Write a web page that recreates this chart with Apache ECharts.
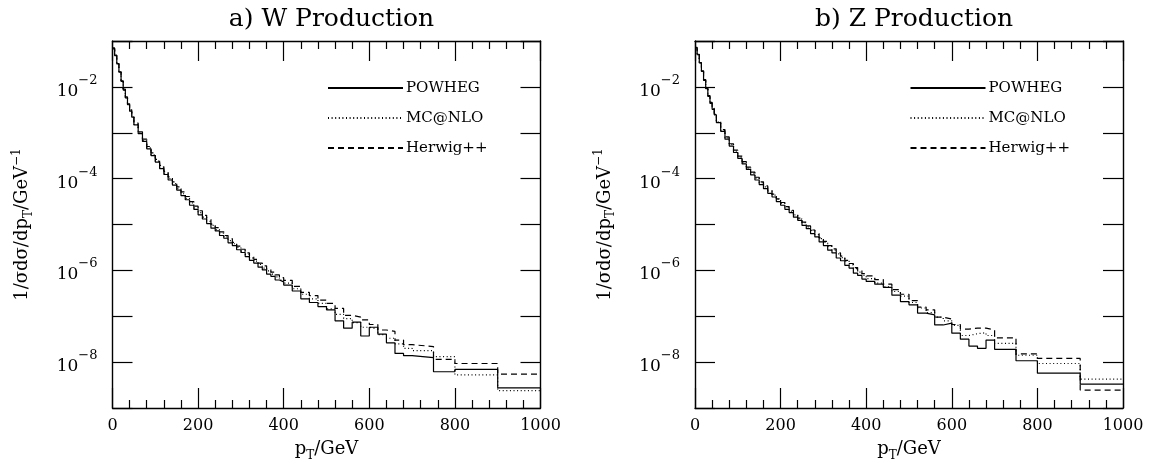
<!DOCTYPE html>
<html>
<head>
<meta charset="utf-8">
<script src="https://cdn.jsdelivr.net/npm/echarts@6/dist/echarts.min.js"></script>
<style>
html,body{margin:0;padding:0;background:#fff;}
#c{width:1151px;height:467px;}
</style>
</head>
<body>
<div id="c"></div>
<script>
// ---- data ----
// lower bin edges in GeV (last bin ends at 1000)
const binEdges = [0,5,10,15,20,25,30,35,40,45,
  50,60,70,80,90,100,110,120,130,140,150,160,170,180,190,200,210,220,230,240,
  250,260,270,280,290,300,310,320,330,340,350,360,370,380,390,
  400,420,440,460,480,500,520,540,560,580,600,620,640,660,680,
  700,750,800,900];
const binUpper = 1000;
const seriesNames = ['POWHEG', 'MC@NLO', 'Herwig++'];
const panelTitles = ['a) W Production', 'b) Z Production'];
const xTickValues = [0, 200, 400, 600, 800, 1000];
const yLabelExponents = [-2, -4, -6, -8];

// log10 of 1/sigma dsigma/dpT per bin
const wPowhegLog = [-1.17,-1.32,-1.50,-1.68,-1.88,-2.07,-2.24,-2.39,-2.53,-2.66,
  -2.83,-3.02,-3.19,-3.35,-3.50,-3.64,-3.78,-3.91,-4.03,-4.14,-4.25,-4.37,-4.46,-4.58,-4.67,
  -4.79,-4.88,-4.98,-5.08,-5.14,-5.24,-5.30,-5.40,-5.46,-5.55,-5.61,-5.70,-5.78,-5.84,-5.93,
  -5.99,-6.08,-6.13,-6.21,-6.25,
  -6.32,-6.45,-6.62,-6.70,-6.79,-6.86,-7.10,-7.26,-7.13,-7.43,-7.24,-7.39,-7.58,-7.81,-7.86,
  -7.90,-8.21,-8.16,-8.56];
const wMcnloLog = [-1.16,-1.32,-1.50,-1.68,-1.88,-2.06,-2.23,-2.38,-2.52,-2.65,
  -2.82,-3.01,-3.17,-3.33,-3.48,-3.62,-3.75,-3.88,-4.00,-4.11,-4.22,-4.33,-4.43,-4.53,-4.64,
  -4.74,-4.84,-4.93,-5.02,-5.11,-5.19,-5.27,-5.35,-5.42,-5.50,-5.58,-5.65,-5.73,-5.80,-5.87,
  -5.95,-6.01,-6.08,-6.14,-6.21,
  -6.28,-6.40,-6.52,-6.62,-6.72,-6.84,-6.96,-7.05,-7.14,-7.24,-7.28,-7.40,-7.48,-7.60,-7.70,
  -7.75,-7.88,-8.28,-8.62];
const wHerwigLog = [-1.15,-1.31,-1.49,-1.67,-1.87,-2.05,-2.22,-2.37,-2.50,-2.63,
  -2.79,-2.98,-3.14,-3.30,-3.44,-3.58,-3.71,-3.84,-3.96,-4.07,-4.18,-4.29,-4.39,-4.50,-4.60,
  -4.70,-4.80,-4.89,-4.99,-5.07,-5.16,-5.24,-5.31,-5.39,-5.47,-5.54,-5.62,-5.70,-5.76,-5.84,
  -5.90,-5.97,-6.04,-6.10,-6.16,
  -6.22,-6.35,-6.48,-6.55,-6.65,-6.72,-6.83,-6.98,-7.02,-7.08,-7.18,-7.30,-7.33,-7.52,-7.62,
  -7.66,-7.94,-8.03,-8.26];
const zPowhegLog = [-1.15,-1.30,-1.48,-1.66,-1.86,-2.04,-2.21,-2.36,-2.49,-2.61,
  -2.78,-2.97,-3.14,-3.29,-3.43,-3.56,-3.68,-3.80,-3.92,-4.03,-4.13,-4.22,-4.32,-4.40,-4.50,
  -4.58,-4.67,-4.74,-4.84,-4.91,-5.02,-5.09,-5.20,-5.27,-5.38,-5.46,-5.56,-5.62,-5.73,-5.79,
  -5.89,-5.95,-6.06,-6.11,-6.19,
  -6.24,-6.30,-6.37,-6.54,-6.68,-6.75,-6.93,-6.97,-7.19,-7.15,-7.37,-7.50,-7.65,-7.70,-7.52,
  -7.72,-7.97,-8.24,-8.48];
const zMcnloLog = [-1.15,-1.30,-1.48,-1.66,-1.85,-2.03,-2.20,-2.35,-2.48,-2.60,
  -2.77,-2.95,-3.11,-3.26,-3.40,-3.53,-3.65,-3.77,-3.88,-3.99,-4.09,-4.18,-4.27,-4.36,-4.45,
  -4.54,-4.62,-4.71,-4.79,-4.88,-4.96,-5.05,-5.13,-5.22,-5.31,-5.39,-5.48,-5.56,-5.64,-5.72,
  -5.80,-5.88,-5.96,-6.04,-6.11,
  -6.18,-6.28,-6.36,-6.46,-6.56,-6.70,-6.82,-6.92,-7.02,-7.10,-7.20,-7.42,-7.38,-7.36,-7.42,
  -7.59,-7.85,-8.03,-8.37];
const zHerwigLog = [-1.14,-1.29,-1.47,-1.65,-1.84,-2.02,-2.19,-2.34,-2.47,-2.59,
  -2.75,-2.93,-3.09,-3.24,-3.38,-3.51,-3.63,-3.75,-3.86,-3.97,-4.07,-4.16,-4.26,-4.34,-4.44,
  -4.52,-4.61,-4.69,-4.78,-4.86,-4.95,-5.03,-5.12,-5.20,-5.29,-5.37,-5.46,-5.53,-5.62,-5.69,
  -5.78,-5.85,-5.94,-6.00,-6.07,
  -6.12,-6.20,-6.30,-6.42,-6.52,-6.66,-6.80,-6.86,-7.02,-7.06,-7.18,-7.28,-7.26,-7.26,-7.30,
  -7.47,-7.82,-7.92,-8.61];

// ---- chart ----
const FONT = 'DejaVu Serif';
const BLACK = '#000';
const chart = echarts.init(document.getElementById('c'), null, {renderer: 'canvas'});

function hist(logs) {
  const d = binEdges.map((e, i) => [e, Math.pow(10, logs[i])]);
  d.push([binUpper, Math.pow(10, logs[logs.length - 1])]);
  return d;
}

const dashTypes = ['solid', [1, 2.6], [6, 4]];
const panels = [[wPowhegLog, wMcnloLog, wHerwigLog], [zPowhegLog, zMcnloLog, zHerwigLog]];
const gridLefts = [112.5, 695];
const gridW = 428, gridTop = 41, gridH = 367;

const axisLineStyle = {color: BLACK, width: 1.4};
function xAxisDef(gi, pos) {
  const bottom = pos === 'bottom';
  return {
    type: 'value', gridIndex: gi, position: pos, min: 0, max: 1000, interval: 200,
    axisLine: {show: true, onZero: false, lineStyle: axisLineStyle},
    axisTick: {show: true, inside: true, length: 20, lineStyle: {color: BLACK, width: 1.2}},
    minorTick: {show: true, splitNumber: 5, length: 8, lineStyle: {color: BLACK, width: 1.2}},
    splitLine: {show: false}, minorSplitLine: {show: false},
    axisLabel: {show: bottom, margin: 10, fontFamily: FONT, fontSize: 16, color: BLACK,
      formatter: v => (xTickValues.indexOf(v) >= 0 ? String(v) : '')},
    name: bottom ? '{a|p}{sub|T}{a|/GeV}' : '',
    nameLocation: 'middle', nameGap: 32,
    nameTextStyle: {rich: {
      a: {fontFamily: FONT, fontSize: 18, color: BLACK, lineHeight: 22, verticalAlign: 'top'},
      sub: {fontFamily: FONT, fontSize: 12, color: BLACK, lineHeight: 12, verticalAlign: 'bottom'}
    }}
  };
}
function yAxisDef(gi, pos) {
  const left = pos === 'left';
  return {
    type: 'log', logBase: 10, gridIndex: gi, position: pos, min: 1e-9, max: 1e-1, interval: 1,
    axisLine: {show: true, onZero: false, lineStyle: axisLineStyle},
    axisTick: {show: true, inside: true, length: 20, lineStyle: {color: BLACK, width: 1.2}},
    splitLine: {show: false},
    axisLabel: {show: left, margin: 15,
      formatter: function (v) {
        const e = Math.round(Math.log10(v));
        if (yLabelExponents.indexOf(e) < 0) return '';
        return '{b|10}{s|\u2212' + (-e) + '}';
      },
      rich: {
        b: {fontFamily: FONT, fontSize: 17, color: BLACK, lineHeight: 26, verticalAlign: 'bottom'},
        s: {fontFamily: FONT, fontSize: 13, color: BLACK, lineHeight: 14, verticalAlign: 'top'}
      }
    },
    name: left ? '{a|1/\u03c3d\u03c3/dp}{sub|T}{a|/GeV}{sup|\u22121}' : '',
    nameLocation: 'middle', nameRotate: 90, nameGap: 78,
    nameTextStyle: {rich: {
      a: {fontFamily: FONT, fontSize: 18, color: BLACK, lineHeight: 24, verticalAlign: 'middle'},
      sub: {fontFamily: FONT, fontSize: 12, color: BLACK, lineHeight: 12, verticalAlign: 'bottom'},
      sup: {fontFamily: FONT, fontSize: 12, color: BLACK, lineHeight: 12, verticalAlign: 'top'}
    }}
  };
}

const grids = [], xAxes = [], yAxes = [], series = [], titles = [], legends = [];
panels.forEach((sets, gi) => {
  grids.push({left: gridLefts[gi], top: gridTop, width: gridW, height: gridH, containLabel: false});
  xAxes.push(xAxisDef(gi, 'bottom'), xAxisDef(gi, 'top'));
  yAxes.push(yAxisDef(gi, 'left'), yAxisDef(gi, 'right'));
  titles.push({text: panelTitles[gi], left: gridLefts[gi] + gridW / 2, top: 2, textAlign: 'center',
    textStyle: {fontFamily: FONT, fontSize: 25, fontWeight: 'normal', color: BLACK}});
  legends.push({data: seriesNames.slice(), orient: 'vertical', left: gridLefts[gi] + 214.5, top: 79,
    padding: 0, itemWidth: 75, itemHeight: 14, itemGap: 12, selectedMode: false,
    itemStyle: {opacity: 0},
    textStyle: {fontFamily: FONT, fontSize: 15, color: BLACK, lineHeight: 18, padding: [0, 0, 0, -2]}});
  sets.forEach((logs, si) => {
    series.push({
      name: seriesNames[si], type: 'line', step: 'end', symbol: 'none',
      xAxisIndex: gi * 2, yAxisIndex: gi * 2, data: hist(logs),
      lineStyle: {color: BLACK, width: 1.2, type: dashTypes[si]},
      itemStyle: {color: BLACK}, animation: false, z: 3 - si
    });
  });
});

chart.setOption({
  backgroundColor: '#fff',
  animation: false,
  title: titles,
  legend: legends,
  grid: grids,
  xAxis: xAxes,
  yAxis: yAxes,
  series: series
});
</script>
</body>
</html>
